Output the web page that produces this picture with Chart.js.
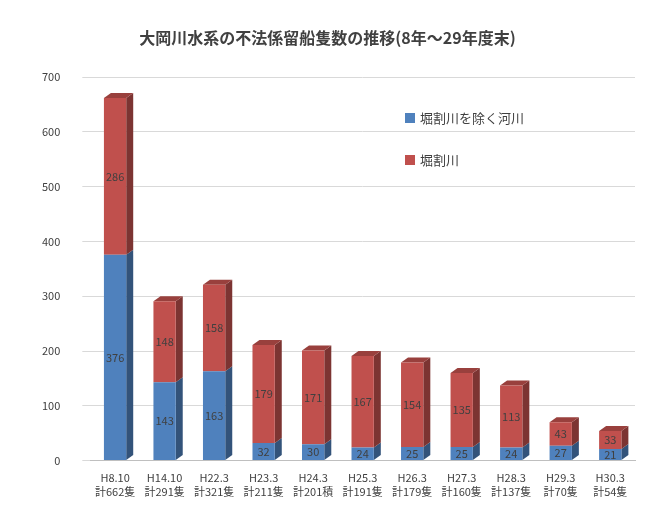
<!DOCTYPE html>
<html><head><meta charset="utf-8">
<script src="https://cdn.jsdelivr.net/npm/chart.js@4"></script>
<style>body{margin:0;background:#fff}#w{width:649px;height:505px}</style>
</head><body><div id="w"><canvas id="c"></canvas></div>
<script>
const periods = ["H8.10","H14.10","H22.3","H23.3","H24.3","H25.3","H26.3","H27.3","H28.3","H29.3","H30.3"];
const totals = ["計662隻","計291隻","計321隻","計211隻","計201積","計191隻","計179隻","計160隻","計137隻","計70隻","計54隻"];
const otherRivers = [376,143,163,32,30,24,25,25,24,27,21];
const horiwari = [286,148,158,179,171,167,154,135,113,43,33];
const yTicks = [0,100,200,300,400,500,600,700];

const F = '"Noto Sans CJK JP","Noto Sans",sans-serif';
function shade(hex,f){const n=parseInt(hex.slice(1),16);const r=(n>>16)*f,g=((n>>8)&255)*f,b=(n&255)*f;return `rgb(${r|0},${g|0},${b|0})`;}
const depth = {id:'depth',beforeDatasetsDraw(ch){
  const ctx=ch.ctx, dx=7, dy=5;
  ch.data.datasets.forEach((ds,di)=>{
    const meta=ch.getDatasetMeta(di);
    meta.data.forEach(b=>{
      const l=b.x-b.width/2, r=b.x+b.width/2, t=Math.min(b.y,b.base), bo=Math.max(b.y,b.base);
      ctx.fillStyle=shade(ds.backgroundColor,0.65);
      ctx.beginPath();ctx.moveTo(r,bo);ctx.lineTo(r+dx,bo-dy);ctx.lineTo(r+dx,t-dy);ctx.lineTo(r,t);ctx.fill();
      if(di===ch.data.datasets.length-1){
        ctx.fillStyle=shade(ds.backgroundColor,0.8);
        ctx.beginPath();ctx.moveTo(l,t);ctx.lineTo(l+dx,t-dy);ctx.lineTo(r+dx,t-dy);ctx.lineTo(r,t);ctx.fill();
      }
    });
  });
}};
const labelsPl = {id:'lbl',afterDatasetsDraw(ch){
  const ctx=ch.ctx;ctx.font='11px '+F;ctx.fillStyle='#404040';ctx.textAlign='center';ctx.textBaseline='middle';
  ch.data.datasets.forEach((ds,di)=>{
    ch.getDatasetMeta(di).data.forEach((b,i)=>{ctx.fillText(ds.data[i],b.x,(b.y+b.base)/2);});
  });
}};
new Chart(document.getElementById('c'),{
  type:'bar',
  data:{labels:periods.map((p,i)=>[p,totals[i]]),
    datasets:[
      {label:'堀割川を除く河川',data:otherRivers,backgroundColor:'#4f81bd'},
      {label:'堀割川',data:horiwari,backgroundColor:'#c0504d'}]},
  options:{responsive:true,maintainAspectRatio:false,animation:false,
    layout:{padding:{left:20,right:14,top:0,bottom:4}},
    datasets:{bar:{barPercentage:0.45,categoryPercentage:1}},
    plugins:{
      title:{display:true,text:'大岡川水系の不法係留船隻数の推移(8年～29年度末)',font:{family:F,size:16,weight:'bold'},color:'#404040',padding:{top:28,bottom:30}},
      legend:{display:false},tooltip:{enabled:false}},
    scales:{
      x:{stacked:true,grid:{display:false},border:{color:'#bfbfbf'},ticks:{font:{family:F,size:11},color:'#404040',maxRotation:0,autoSkip:false}},
      y:{stacked:true,min:0,max:700,afterBuildTicks(a){a.ticks=yTicks.map(v=>({value:v}));},
        grid:{color:'#d9d9d9'},border:{display:false},ticks:{font:{family:F,size:11},color:'#404040',padding:22}}
    }},
  plugins:[depth,labelsPl,{id:'leg',afterDraw(ch){
    const ctx=ch.ctx;ctx.font='13px '+F;ctx.textBaseline='middle';ctx.textAlign='left';
    [['#4f81bd','堀割川を除く河川',118],['#c0504d','堀割川',160]].forEach(([c,t,y])=>{
      ctx.fillStyle=c;ctx.fillRect(405,y-5,10,10);ctx.fillStyle='#404040';ctx.fillText(t,420,y);});
  }}]
});
</script></body></html>
